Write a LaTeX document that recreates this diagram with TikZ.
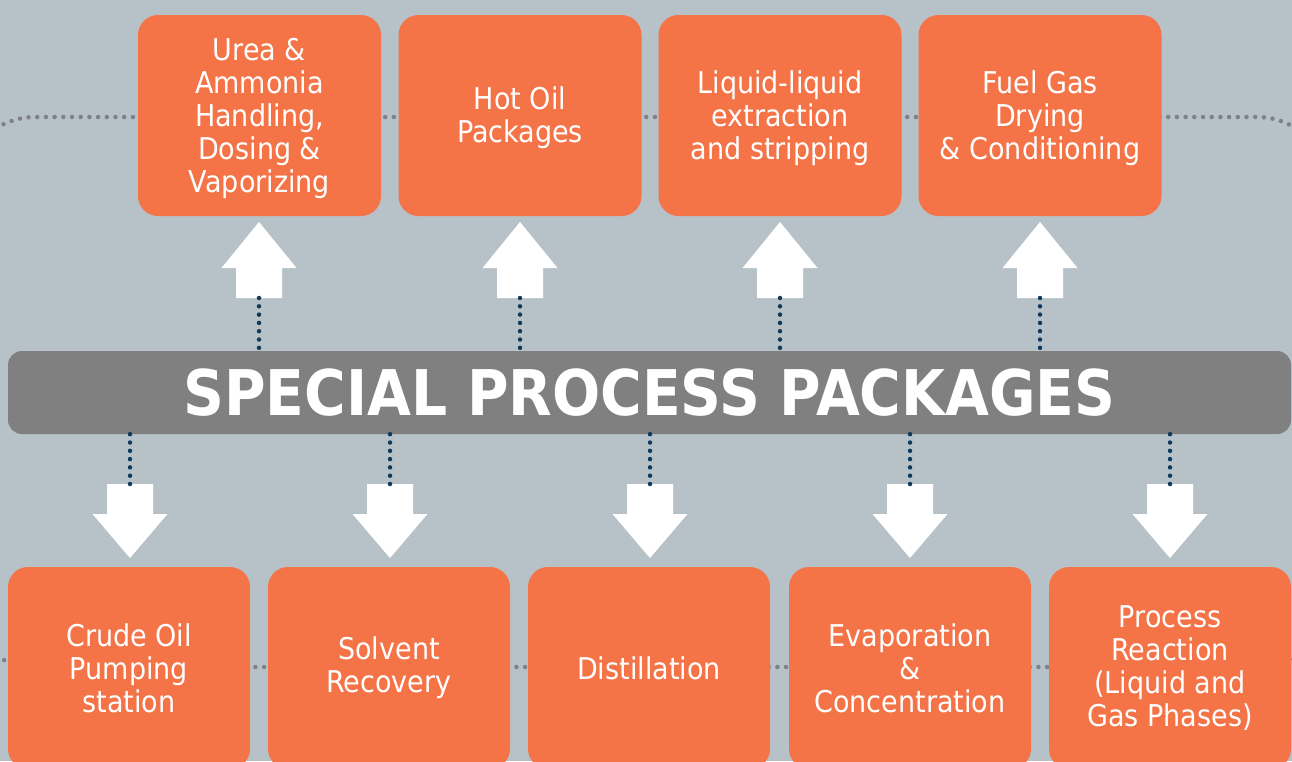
\documentclass[tikz,border=0pt]{standalone}
\usepackage{fontspec}
\setmainfont{DejaVu Sans}[FakeStretch=0.9]
\usetikzlibrary{positioning}
\definecolor{bgblue}{RGB}{183,194,200}
\definecolor{pkgorange}{RGB}{244,115,71}
\definecolor{bargrey}{RGB}{128,128,128}
\definecolor{dotgrey}{RGB}{128,128,136}
\definecolor{dotnavy}{RGB}{16,58,92}
\newcommand{\toplines}[1]{\raisebox{-4pt}[\height][\depth]{\begin{tabular}{@{}c@{}}#1\end{tabular}}}
\begin{document}
\begin{tikzpicture}[x=1pt,y=-1pt,
  pkg/.style={fill=pkgorange,text=white,rounded corners=20pt,minimum width=243pt,minimum height=201pt,align=center,inner sep=0pt,font=\fontsize{30}{33}\selectfont},
  greydots/.style={dotgrey,line width=4.5pt,line cap=round,dash pattern=on 0pt off 8.7pt},
  navydots/.style={dotnavy,line width=4.5pt,line cap=round,dash pattern=on 0pt off 8.3pt},
  uparrow/.pic={\fill[white] (0,0)--(37.5,46)--(23,46)--(23,76)--(-23,76)--(-23,46)--(-37.5,46)--cycle;
    \coordinate (-base) at (0,76);},
  downarrow/.pic={\fill[white] (-23,0)--(23,0)--(23,30)--(37.5,30)--(0,74)--(-37.5,30)--(-23,30)--cycle;
    \coordinate (-top) at (0,0);}]
\useasboundingbox (0,0) rectangle (1292,761);
\clip (0,0) rectangle (1292,761);
\fill[bgblue] (0,0) rectangle (1292,761);
\draw[greydots,rounded corners=72pt] (-37,117) rectangle (1329,667);

\node[fill=bargrey,rounded corners=14pt,minimum width=1283pt,minimum height=83pt,inner sep=0pt,text=white,font=\fontsize{63}{66}\selectfont\bfseries] (bar) at (649.5,392.5) {SPECIAL PROCESS PACKAGES};

\node[pkg] (urea) at (259.5,115.5) {\toplines{Urea \&\\Ammonia\\Handling,\\Dosing \&\\Vaporizing}};
\node[pkg] (hotoil) at (520,115.5) {\toplines{Hot Oil\\Packages}};
\node[pkg] (liquid) at (780,115.5) {\toplines{Liquid-liquid\\extraction\\and stripping}};
\node[pkg] (fuelgas) at (1040,115.5) {\toplines{Fuel Gas\\Drying\\\& Conditioning}};

\node[pkg,minimum width=242pt,minimum height=202pt] (crude) at (129,668) {Crude Oil\\Pumping\\station};
\node[pkg,minimum width=242pt,minimum height=202pt] (solvent) at (389,668) {Solvent\\Recovery};
\node[pkg,minimum width=242pt,minimum height=202pt] (distil) at (649,668) {Distillation};
\node[pkg,minimum width=242pt,minimum height=202pt] (evap) at (910,668) {Evaporation\\\&\\Concentration};
\node[pkg,minimum width=242pt,minimum height=202pt] (reaction) at (1170,668) {Process\\Reaction\\(Liquid and\\Gas Phases)};

\foreach \x [count=\i] in {259,520,780,1040}{
  \pic (u\i) at (\x,222) {uparrow};
  \draw[navydots] (u\i-base) -- (u\i-base |- bar.north);
}
\foreach \x [count=\i] in {130,390,650,910,1170}{
  \pic (d\i) at (\x,484) {downarrow};
  \draw[navydots] (bar.south -| d\i-top) -- (d\i-top);
}
\end{tikzpicture}
\end{document}
